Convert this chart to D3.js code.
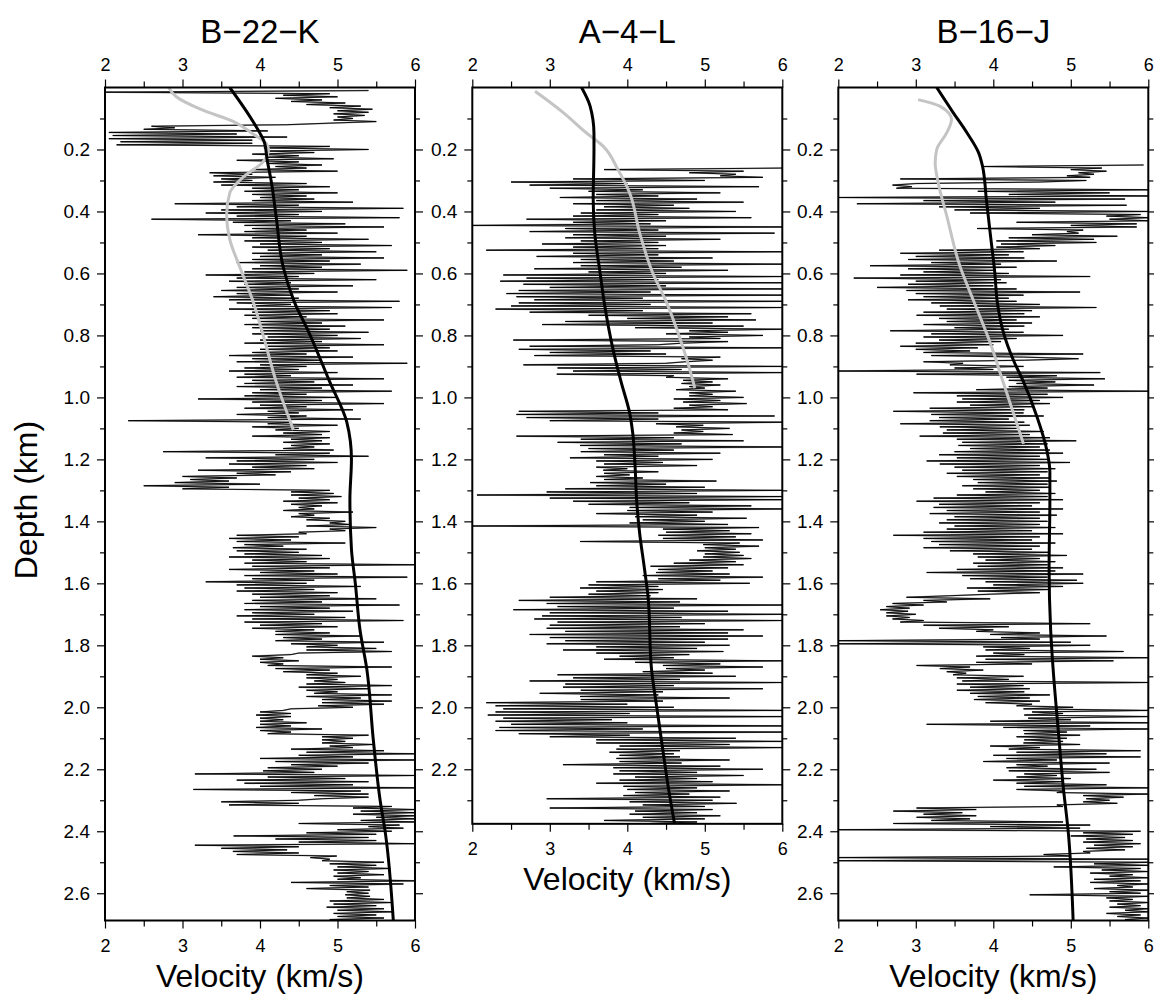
<!DOCTYPE html>
<html>
<head>
<meta charset="utf-8">
<script src="https://cdn.jsdelivr.net/npm/d3@7"></script>
<style>
body { margin: 0; background: #fff; }
text { font-family: "Liberation Sans", Arial, Helvetica, sans-serif; fill: #000; }
</style>
</head>
<body>
<svg id="chart" width="1154" height="996"></svg>
<script>
//Well names (titles)
var wellNames = ["B−22−K", "A−4−L", "B−16−J"];

//Axis ticks
var velTicks = [2, 3, 4, 5, 6];
var velMinorTicks = [2.5, 3.5, 4.5, 5.5];
var depthTicks = [0.2, 0.4, 0.6, 0.8, 1.0, 1.2, 1.4, 1.6, 1.8, 2.0, 2.2, 2.4, 2.6];
var depthMinorTicks = [0.1, 0.3, 0.5, 0.7, 0.9, 1.1, 1.3, 1.5, 1.7, 1.9, 2.1, 2.3, 2.5];

//Bottom depth of each panel (km)
var maxDepth = [2.688, 2.376, 2.688];

//Sonic logs, one sample every 0.005 km from the start depth (km/s)
var logStep = 0.005;
var b22kStart = 0.01;
var b22kLog = [
  5.4, 2.0, 4.9, 4.3, 5.0, 4.2, 4.8, 4.4, 5.1, 4.6,
  5.3, 4.9, 5.45, 5.0, 5.4, 4.95, 5.35, 5.0, 5.2, 4.95,
  5.5, 4.9, 4.35, 2.6, 2.9, 2.5, 4.1, 2.05, 3.7, 2.1,
  4.35, 2.05, 3.9, 2.2, 3.9, 2.15, 4.9, 4.05, 5.4, 4.1,
  4.7, 3.9, 4.5, 4.1, 4.95, 3.7, 4.5, 4.1, 4.8, 4.2,
  4.6, 3.9, 5.0, 3.35, 3.9, 3.4, 4.2, 3.5, 3.9, 3.4,
  4.6, 3.5, 4.9, 3.9, 4.5, 3.8, 5.0, 3.9, 4.6, 4.0,
  4.7, 3.9, 5.2, 2.9, 4.5, 3.7, 5.85, 3.5, 4.8, 3.3,
  4.5, 3.7, 5.8, 2.6, 4.4, 3.65, 5.1, 3.8, 5.6, 3.9,
  4.6, 3.8, 5.0, 3.2, 4.6, 3.9, 5.4, 3.8, 4.8, 4.0,
  5.7, 3.9, 4.9, 4.1, 5.5, 3.9, 4.8, 4.0, 5.6, 3.9,
  4.9, 3.7, 5.3, 4.0, 4.8, 3.9, 5.9, 3.8, 4.7, 3.3,
  4.5, 3.7, 5.5, 3.6, 4.4, 3.8, 5.2, 3.7, 4.5, 3.5,
  5.0, 3.7, 4.4, 3.4, 4.5, 3.6, 5.8, 3.7, 4.4, 3.9,
  5.7, 3.6, 4.9, 3.9, 5.0, 3.8, 4.6, 3.9, 5.6, 4.0,
  4.8, 3.8, 5.1, 3.9, 4.9, 4.0, 5.4, 3.9, 5.0, 4.1,
  5.3, 4.0, 4.8, 3.8, 5.6, 4.1, 4.9, 4.0, 5.0, 3.9,
  4.6, 3.6, 5.2, 3.9, 4.8, 3.7, 5.9, 4.0, 4.6, 3.8,
  4.5, 3.6, 5.0, 3.8, 4.4, 3.7, 5.6, 3.9, 4.7, 3.8,
  5.2, 3.7, 4.8, 4.0, 5.7, 3.9, 4.6, 3.8, 5.0, 3.2,
  4.8, 3.9, 5.6, 4.0, 4.6, 3.8, 5.2, 4.1, 4.5, 3.7,
  4.6, 4.1, 5.3, 2.3, 4.4, 4.1, 5.0, 3.9, 4.5, 4.2,
  4.9, 4.3, 4.8, 3.9, 4.9, 4.4, 4.8, 4.3, 4.9, 4.4,
  4.7, 4.3, 4.95, 2.75, 4.9, 4.2, 5.4, 3.3, 4.7, 3.7,
  5.0, 3.6, 4.6, 3.9, 4.7, 3.2, 4.4, 3.7, 4.2, 3.0,
  3.7, 3.1, 3.6, 2.9, 4.0, 2.5, 3.6, 3.0, 4.9, 4.4,
  4.95, 4.4, 5.05, 4.5, 4.9, 4.3, 5.0, 4.4, 4.8, 4.5,
  4.7, 4.3, 5.2, 4.5, 4.7, 4.4, 4.9, 4.6, 5.1, 4.9,
  5.15, 4.6, 5.5, 4.9, 5.1, 4.5, 4.6, 3.7, 4.5, 3.6,
  4.4, 3.7, 5.1, 3.8, 4.3, 3.65, 4.6, 3.7, 4.5, 3.8,
  4.8, 3.6, 4.9, 3.9, 4.6, 3.8, 6.0, 3.9, 4.9, 3.6,
  4.7, 4.0, 5.0, 3.8, 5.9, 3.9, 4.7, 3.3, 4.6, 3.7,
  5.3, 3.8, 4.7, 3.7, 5.0, 3.9, 4.9, 4.0, 5.5, 3.9,
  4.8, 3.8, 5.8, 4.0, 4.9, 3.8, 5.2, 3.9, 4.7, 3.7,
  5.1, 3.9, 5.85, 3.8, 4.8, 4.0, 5.0, 3.9, 4.7, 4.2,
  4.9, 4.2, 5.3, 4.3, 4.8, 4.2, 5.6, 4.4, 5.0, 4.6,
  5.5, 4.6, 5.7, 4.5, 4.4, 3.9, 4.3, 4.0, 4.5, 4.0,
  4.3, 4.1, 5.7, 4.2, 4.9, 4.3, 5.0, 4.6, 5.3, 4.6,
  5.0, 4.7, 5.1, 4.6, 5.7, 4.5, 5.4, 4.6, 5.0, 4.7,
  5.7, 4.6, 5.3, 4.8, 5.7, 4.8, 5.6, 4.75, 5.2, 4.4,
  4.3, 4.0, 4.4, 3.95, 4.4, 4.0, 4.3, 4.0, 4.6, 4.0,
  4.4, 3.95, 4.8, 4.0, 4.4, 4.1, 5.4, 4.8, 5.2, 4.8,
  5.1, 4.8, 5.46, 4.9, 5.2, 4.4, 5.6, 4.6, 6.0, 4.5,
  5.2, 4.0, 6.0, 4.2, 5.4, 4.4, 5.0, 4.1, 4.8, 4.04,
  4.7, 3.16, 6.0, 4.1, 5.1, 3.7, 5.4, 3.8, 5.2, 4.0,
  6.0, 3.14, 5.3, 4.4, 5.4, 4.7, 5.4, 4.8, 4.5, 3.5,
  4.5, 3.6, 5.7, 5.2, 6.0, 5.3, 6.0, 5.2, 6.0, 5.5,
  6.0, 5.3, 6.0, 4.5, 5.8, 5.4, 5.85, 5.0, 5.7, 4.6,
  5.5, 3.66, 5.4, 4.2, 5.5, 4.5, 6.0, 3.16, 4.5, 3.5,
  4.35, 3.65, 4.5, 3.7, 4.99, 4.65, 4.9, 4.8, 5.6, 4.9,
  5.5, 5.0, 5.68, 4.95, 5.4, 5.0, 5.6, 4.95, 5.3, 5.0,
  6.0, 4.4, 5.85, 4.9, 5.4, 4.6, 5.42, 5.12, 5.4, 5.1,
  5.42, 5.12, 5.6, 4.9, 5.7, 4.95, 5.5, 4.86, 5.6, 5.0,
  5.72, 4.95, 5.5, 5.0, 5.6, 4.9, 5.7, 5.0, 5.5, 5.1
];
var a4lStart = 0.26;
var a4lLog = [
  6.0, 3.7, 5.5, 4.8, 5.4, 5.2, 5.75, 3.3, 5.0, 2.5,
  4.0, 2.74, 5.7, 3.0, 4.2, 3.5, 5.2, 3.6, 4.4, 3.13,
  4.9, 3.6, 5.5, 3.3, 4.6, 3.7, 4.8, 3.6, 5.4, 3.4,
  4.4, 3.3, 5.6, 2.7, 4.5, 3.3, 4.3, 2.0, 6.0, 3.2,
  4.4, 2.74, 5.9, 3.3, 4.5, 3.2, 5.2, 3.4, 4.4, 2.9,
  4.5, 3.3, 4.4, 2.18, 6.0, 3.3, 4.4, 2.83, 5.1, 3.4,
  4.6, 3.3, 6.0, 3.4, 4.7, 2.8, 5.3, 3.5, 4.5, 2.4,
  6.0, 2.7, 4.4, 2.36, 6.0, 2.66, 4.5, 3.0, 6.0, 2.6,
  4.3, 2.44, 6.0, 2.57, 4.2, 2.8, 6.0, 2.6, 4.3, 2.5,
  6.0, 2.3, 4.2, 2.74, 5.6, 3.5, 5.3, 4.0, 5.66, 3.2,
  5.1, 2.9, 5.5, 4.1, 6.0, 4.8, 5.3, 4.5, 5.75, 4.8,
  5.2, 2.53, 5.3, 4.7, 4.4, 2.74, 6.0, 2.6, 4.3, 3.0,
  4.5, 2.8, 5.2, 4.7, 5.1, 4.75, 4.5, 2.66, 6.0, 3.1,
  4.7, 3.3, 6.0, 3.09, 4.6, 4.5, 5.3, 4.72, 5.1, 4.7,
  5.2, 4.8, 5.0, 4.63, 5.4, 4.8, 5.1, 4.8, 5.5, 4.6,
  5.2, 4.72, 5.54, 4.8, 5.1, 4.6, 5.3, 2.6, 4.4, 2.57,
  5.9, 2.7, 4.4, 3.0, 6.0, 4.37, 4.98, 4.63, 5.32, 4.7,
  4.98, 4.6, 5.36, 2.57, 4.6, 3.4, 5.5, 3.1, 4.7, 3.39,
  6.0, 3.5, 4.6, 3.4, 5.2, 3.7, 4.4, 3.26, 5.1, 3.6,
  4.46, 3.7, 4.9, 3.6, 4.0, 3.69, 4.4, 3.7, 4.03, 3.6,
  4.2, 3.7, 5.15, 3.52, 4.5, 3.6, 5.0, 3.2, 6.0, 2.96,
  4.9, 2.06, 6.0, 3.0, 6.0, 3.3, 4.8, 3.5, 5.6, 4.03,
  6.0, 4.0, 5.1, 3.6, 4.9, 4.1, 5.54, 4.2, 5.0, 4.03,
  5.3, 2.0, 5.7, 4.46, 5.32, 4.5, 5.6, 4.4, 5.4, 4.46,
  5.75, 3.39, 5.45, 4.98, 5.7, 5.0, 5.4, 4.9, 5.45, 5.0,
  5.5, 4.98, 5.6, 4.8, 5.4, 4.6, 5.5, 4.3, 5.3, 4.4,
  5.1, 4.37, 5.32, 4.2, 5.75, 4.4, 5.2, 3.6, 5.58, 3.5,
  4.4, 3.39, 4.46, 3.6, 4.4, 3.5, 4.3, 3.0, 4.9, 2.6,
  4.68, 2.96, 6.0, 3.1, 4.6, 2.53, 5.3, 3.0, 6.0, 2.9,
  4.7, 2.8, 6.0, 3.1, 5.0, 3.0, 4.68, 2.96, 5.5, 3.2,
  5.3, 2.74, 5.75, 3.0, 5.3, 3.2, 5.0, 2.96, 5.32, 3.6,
  4.9, 3.17, 5.24, 3.6, 4.8, 3.9, 4.6, 3.7, 6.0, 4.1,
  5.2, 4.46, 5.75, 4.5, 5.0, 4.2, 5.1, 3.1, 5.4, 3.3,
  4.68, 2.74, 6.0, 3.2, 4.6, 3.17, 5.75, 3.4, 4.46, 2.87,
  4.4, 3.39, 5.32, 3.4, 4.46, 2.18, 4.0, 2.3, 4.6, 2.4,
  6.0, 2.3, 4.03, 2.2, 6.0, 2.4, 3.8, 2.3, 4.0, 2.5,
  6.0, 2.35, 4.2, 2.3, 6.0, 2.6, 4.03, 3.0, 5.4, 3.6,
  6.0, 3.6, 5.32, 3.9, 6.0, 3.86, 4.68, 3.77, 4.6, 3.9,
  4.68, 3.86, 5.32, 3.9, 4.7, 3.17, 5.2, 3.82, 5.75, 3.9,
  4.9, 3.82, 5.5, 4.1, 4.9, 3.9, 5.1, 3.6, 6.0, 3.95,
  4.9, 4.0, 5.32, 4.1, 4.8, 3.95, 5.2, 2.96, 5.1, 4.03,
  5.41, 4.2, 5.0, 3.0, 5.1, 4.1, 4.9, 4.03, 5.2, 4.2,
  5.0, 3.7, 4.9, 4.3, 4.8
];
var b16jStart = 0.25;
var b16jLog = [
  5.94, 3.87, 5.4, 5.0, 5.46, 5.1, 5.3, 4.95, 5.25, 2.8,
  5.2, 4.6, 3.0, 2.7, 2.95, 2.75, 6.0, 3.8, 5.5, 4.2,
  6.0, 2.0, 5.7, 3.1, 4.8, 2.24, 5.72, 3.3, 4.6, 3.5,
  6.0, 3.7, 5.9, 5.46, 6.0, 5.5, 6.0, 4.3, 5.85, 5.0,
  5.85, 3.79, 5.16, 4.95, 5.1, 4.5, 5.6, 4.2, 5.3, 4.04,
  5.33, 4.1, 4.8, 4.04, 4.6, 3.3, 4.39, 2.8, 4.2, 3.0,
  4.4, 2.9, 4.82, 3.2, 4.1, 2.41, 4.3, 2.9, 4.0, 3.1,
  4.2, 2.8, 5.25, 2.2, 4.1, 3.0, 4.17, 2.9, 4.0, 2.5,
  4.3, 2.88, 5.12, 3.0, 4.39, 3.1, 4.2, 2.9, 4.3, 3.2,
  4.6, 3.31, 5.33, 3.4, 4.5, 3.1, 4.4, 3.01, 4.6, 3.3,
  4.3, 3.4, 4.5, 3.1, 4.4, 3.5, 4.2, 2.67, 4.39, 3.2,
  4.9, 3.1, 4.3, 3.3, 4.1, 3.0, 4.0, 2.8, 3.8, 3.0,
  3.7, 3.1, 5.16, 3.2, 4.39, 5.1, 4.4, 3.1, 3.61, 3.44,
  4.39, 3.5, 4.0, 2.0, 5.38, 3.01, 4.82, 4.17, 5.44, 4.2,
  4.8, 4.3, 5.3, 4.2, 4.7, 3.78, 6.0, 2.97, 4.7, 3.53,
  4.9, 3.6, 4.6, 3.53, 4.73, 3.7, 4.5, 3.18, 4.4, 2.71,
  4.39, 3.2, 4.65, 3.3, 4.2, 3.18, 4.4, 2.8, 4.47, 3.31,
  4.3, 3.4, 4.65, 3.35, 4.47, 3.05, 4.73, 3.53, 5.07, 3.6,
  4.7, 3.55, 4.6, 3.7, 4.73, 3.5, 4.9, 3.3, 4.6, 3.53,
  4.73, 3.14, 4.99, 3.31, 4.6, 3.5, 4.8, 3.6, 4.7, 3.4,
  4.6, 3.53, 4.73, 3.74, 4.82, 3.8, 4.7, 3.6, 4.73, 3.74,
  4.6, 3.9, 4.8, 3.53, 4.7, 3.23, 4.9, 3.01, 4.6, 3.3,
  4.5, 3.23, 4.9, 3.4, 4.6, 3.18, 4.82, 3.5, 4.6, 3.4,
  4.7, 3.3, 4.6, 3.5, 4.8, 3.4, 4.5, 3.1, 4.9, 2.71,
  4.6, 3.1, 4.5, 3.2, 4.8, 3.3, 4.6, 3.1, 4.5, 3.44,
  4.73, 3.74, 4.95, 3.8, 4.6, 3.9, 4.8, 3.74, 4.7, 3.8,
  4.9, 3.53, 4.8, 3.14, 5.16, 3.6, 4.7, 3.7, 5.08, 3.9,
  5.16, 4.0, 4.9, 3.66, 4.73, 3.8, 4.6, 3.96, 3.44, 2.88,
  3.96, 3.1, 3.4, 2.7, 3.1, 2.62, 2.92, 2.54, 2.9, 2.62,
  3.0, 2.62, 2.92, 2.7, 3.1, 2.8, 5.25, 3.1, 4.2, 3.3,
  4.0, 3.78, 4.6, 3.96, 5.46, 4.1, 4.6, 2.0, 5.0, 2.0,
  5.25, 3.87, 4.47, 3.9, 5.68, 4.0, 4.4, 3.78, 6.0, 3.9,
  5.55, 3.78, 4.5, 3.01, 3.7, 3.31, 3.87, 3.4, 3.65, 3.48,
  4.39, 3.53, 4.2, 3.6, 6.0, 3.53, 4.39, 3.7, 4.47, 3.53,
  4.4, 3.7, 4.73, 3.8, 4.47, 3.75, 4.6, 3.9, 4.5, 4.3,
  5.03, 4.39, 6.0, 4.5, 4.9, 4.4, 6.0, 4.45, 5.0, 3.96,
  6.0, 3.14, 5.25, 4.13, 6.0, 4.39, 4.95, 4.4, 5.12, 4.3,
  4.95, 4.4, 4.9, 4.39, 5.12, 3.96, 4.6, 4.2, 5.9, 4.3,
  5.46, 4.0, 5.9, 4.17, 4.82, 3.87, 5.5, 4.3, 4.7, 4.17,
  5.33, 4.2, 5.5, 4.4, 4.82, 4.3, 5.0, 4.0, 4.9, 4.3,
  5.46, 4.4, 6.0, 4.3, 4.9, 4.82, 6.0, 5.16, 5.68, 5.2,
  5.5, 5.16, 5.6, 4.82, 4.9, 3.01, 3.78, 2.71, 3.6, 3.1,
  3.78, 3.01, 3.7, 3.2, 4.9, 2.71, 5.25, 3.96, 5.12, 2.0,
  5.9, 5.16, 5.8, 5.0, 5.7, 5.2, 5.8, 5.16, 5.9, 5.3,
  5.8, 5.2, 5.7, 5.16, 5.25, 4.65, 5.0, 2.0, 6.0, 2.0,
  6.0, 5.3, 6.0, 4.78, 5.9, 5.4, 6.0, 5.25, 5.8, 5.5,
  6.0, 5.3, 5.9, 5.25, 6.0, 5.6, 5.8, 5.3, 6.0, 5.5,
  5.9, 4.47, 6.0, 5.46, 5.8, 5.5, 6.0, 5.6, 5.9, 5.5,
  6.0, 5.7, 6.0, 5.46, 5.9, 5.6, 6.0, 5.7, 6.0, 5.8
];

//Smooth velocity models: [depth km, velocity km/s]
var b22kBlack = [[0, 3.61], [0.11, 3.91], [0.18, 4.06], [0.23, 4.09], [0.31, 4.15], [0.42, 4.21], [0.58, 4.30], [0.69, 4.44], [0.79, 4.63], [0.95, 4.90], [1.08, 5.12], [1.2, 5.18], [1.33, 5.16], [1.49, 5.18], [1.6, 5.23], [1.75, 5.29], [1.88, 5.38], [2.1, 5.46], [2.3, 5.55], [2.41, 5.62], [2.688, 5.72]];
var b22kGray = [[0, 2.82], [0.03, 2.92], [0.07, 3.23], [0.11, 3.66], [0.15, 3.91], [0.18, 4.08], [0.2, 4.11], [0.24, 4.04], [0.29, 3.78], [0.34, 3.61], [0.41, 3.57], [0.49, 3.61], [0.58, 3.74], [0.69, 3.91], [0.79, 4.03], [0.95, 4.21], [1.105, 4.43]];
var a4lBlack = [[0, 3.41], [0.06, 3.52], [0.15, 3.57], [0.2, 3.57], [0.36, 3.56], [0.47, 3.58], [0.6, 3.65], [0.69, 3.70], [0.85, 3.82], [0.95, 3.92], [1.05, 4.03], [1.115, 4.07], [1.22, 4.10], [1.33, 4.12], [1.44, 4.16], [1.55, 4.22], [1.65, 4.27], [1.87, 4.31], [2.0, 4.38], [2.14, 4.46], [2.26, 4.53], [2.376, 4.61]];
var a4lGray = [[0.012, 2.81], [0.08, 3.17], [0.146, 3.47], [0.19, 3.69], [0.265, 3.88], [0.34, 4.03], [0.47, 4.16], [0.6, 4.33], [0.69, 4.50], [0.81, 4.68], [0.95, 4.85], [0.97, 4.87]];
var b16jBlack = [[0, 3.27], [0.08, 3.48], [0.146, 3.66], [0.21, 3.81], [0.253, 3.86], [0.36, 3.91], [0.47, 3.96], [0.6, 4.02], [0.69, 4.05], [0.79, 4.13], [0.88, 4.26], [0.95, 4.39], [1.06, 4.56], [1.17, 4.69], [1.24, 4.73], [1.33, 4.73], [1.55, 4.72], [1.75, 4.74], [1.87, 4.77], [2.08, 4.84], [2.25, 4.90], [2.41, 4.97], [2.688, 5.03]];
var b16jGray = [[0.039, 3.03], [0.06, 3.31], [0.103, 3.46], [0.146, 3.40], [0.2, 3.27], [0.243, 3.25], [0.308, 3.29], [0.415, 3.40], [0.577, 3.57], [0.685, 3.74], [0.824, 3.96], [0.953, 4.13], [1.15, 4.39]];

var logs = [[b22kStart, b22kLog], [a4lStart, a4lLog], [b16jStart, b16jLog]];
var blackModels = [b22kBlack, a4lBlack, b16jBlack];
var grayModels = [b22kGray, a4lGray, b16jGray];

//Panel layout
var panelLeft = [105, 472.3, 838.3];
var panelWidth = 310;
var panelTop = 87.5;
var pxPerKm = 309.9;

var svg = d3.select("#chart");

for (var p = 0; p < 3; p++) {
    drawPanel(p);
}

function drawPanel(p) {
    var left = panelLeft[p];
    var bottom = panelTop + maxDepth[p] * pxPerKm;
    var height = bottom - panelTop;

    var x = d3.scaleLinear().domain([2, 6]).range([0, panelWidth]);
    var y = d3.scaleLinear().domain([0, maxDepth[p]]).range([0, height]);

    var g = svg.append("g").attr("transform", "translate(" + left + "," + panelTop + ")");

    g.append("clipPath").attr("id", "clip" + p)
        .append("rect").attr("width", panelWidth).attr("height", height);

    var plot = g.append("g").attr("clip-path", "url(#clip" + p + ")");

    //log trace: depth from sample index
    var start = logs[p][0];
    var logLine = d3.line()
        .x(function(d) { return x(d); })
        .y(function(d, i) { return y(start + i * logStep); });

    plot.append("path")
        .datum(logs[p][1])
        .attr("d", logLine)
        .attr("fill", "none")
        .attr("stroke", "#9a9a9a")
        .attr("stroke-width", 1.5);
    plot.append("path")
        .datum(logs[p][1])
        .attr("d", logLine)
        .attr("fill", "none")
        .attr("stroke", "#000")
        .attr("stroke-width", 0.9);

    //smooth velocity curves
    var smooth = d3.line()
        .x(function(d) { return x(d[1]); })
        .y(function(d) { return y(d[0]); })
        .curve(d3.curveMonotoneY);

    plot.append("path")
        .datum(grayModels[p])
        .attr("d", smooth)
        .attr("fill", "none")
        .attr("stroke", "#c4c4c4")
        .attr("stroke-width", 3);
    plot.append("path")
        .datum(blackModels[p])
        .attr("d", smooth)
        .attr("fill", "none")
        .attr("stroke", "#000")
        .attr("stroke-width", 3);

    //axes
    var dTicks = depthTicks.filter(function(d) { return d <= maxDepth[p]; });
    var dMinor = depthMinorTicks.filter(function(d) { return d <= maxDepth[p]; });

    addAxis(g, d3.axisTop(x).tickValues(velTicks).tickSize(8).tickPadding(8.5).tickFormat(d3.format("d")), 0, 18);
    addAxis(g, d3.axisTop(x).tickValues(velMinorTicks).tickSize(6).tickFormat(""), 0, 18);
    addAxis(g, d3.axisBottom(x).tickValues(velTicks).tickSize(8).tickPadding(10.5).tickFormat(d3.format("d")), height, 18);
    addAxis(g, d3.axisBottom(x).tickValues(velMinorTicks).tickSize(6).tickFormat(""), height, 18);

    var la = g.append("g").call(d3.axisLeft(y).tickValues(dTicks).tickSize(8).tickPadding(7).tickFormat(d3.format(".1f")));
    styleAxis(la, 19);
    styleAxis(g.append("g").call(d3.axisLeft(y).tickValues(dMinor).tickSize(5).tickFormat("")), 19);
    var ra = g.append("g").attr("transform", "translate(" + panelWidth + ",0)")
        .call(d3.axisRight(y).tickValues(dTicks).tickSize(8).tickFormat(""));
    styleAxis(ra, 19);
    styleAxis(g.append("g").attr("transform", "translate(" + panelWidth + ",0)")
        .call(d3.axisRight(y).tickValues(dMinor).tickSize(5).tickFormat("")), 19);

    //frame
    g.append("rect")
        .attr("width", panelWidth)
        .attr("height", height)
        .attr("fill", "none")
        .attr("stroke", "#000")
        .attr("stroke-width", 2);

    //title
    g.append("text")
        .attr("x", panelWidth / 2)
        .attr("y", 43 - panelTop)
        .attr("text-anchor", "middle")
        .attr("font-size", 33)
        .text(wellNames[p]);

    //x label
    g.append("text")
        .attr("x", panelWidth / 2)
        .attr("y", height + 66)
        .attr("text-anchor", "middle")
        .attr("font-size", 32)
        .text("Velocity (km/s)");
}

function addAxis(g, axis, ty, fs) {
    var a = g.append("g").attr("transform", "translate(0," + ty + ")").call(axis);
    styleAxis(a, fs);
}

function styleAxis(a, fs) {
    a.select(".domain").remove();
    a.selectAll("line").attr("stroke", "#000").attr("stroke-width", 1.2);
    a.selectAll("text")
        .attr("font-size", fs)
        .attr("font-family", "Liberation Sans, Arial, sans-serif")
        .attr("fill", "#000");
}

//y label
svg.append("text")
    .attr("transform", "translate(37,500) rotate(-90)")
    .attr("text-anchor", "middle")
    .attr("font-size", 32)
    .text("Depth (km)");
</script>
</body>
</html>
